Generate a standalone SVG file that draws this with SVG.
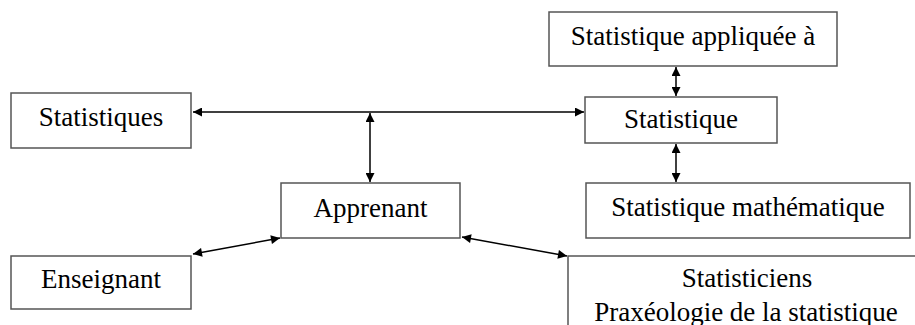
<svg xmlns="http://www.w3.org/2000/svg" width="915" height="325" viewBox="0 0 915 325">
<defs>
<style>
.box{fill:#fff;stroke:#555;stroke-width:1.5}
.t{font-family:"Liberation Serif","Times New Roman",serif;font-size:27px;fill:#000;text-anchor:middle}
.c{stroke:#000;stroke-width:1.5;fill:none;marker-start:url(#ah);marker-end:url(#ah)}
</style>
<marker id="ah" viewBox="0 0 10 10" refX="10" refY="5" markerWidth="10" markerHeight="9" markerUnits="userSpaceOnUse" orient="auto-start-reverse">
<path d="M0,0 L10,5 L0,10 Z" fill="#000"/>
</marker>
</defs>
<rect width="915" height="325" fill="#fff"/>
<g id="connectors">
<line class="c" x1="193" y1="112" x2="584" y2="112"/>
<line class="c" x1="370" y1="113" x2="370" y2="182"/>
<line class="c" x1="676" y1="67" x2="676" y2="96"/>
<line class="c" x1="676" y1="144" x2="676" y2="182"/>
<line class="c" x1="193" y1="254" x2="280" y2="238"/>
<line class="c" x1="462" y1="237" x2="567" y2="256"/>
</g>
<g id="statistiques"><rect class="box" x="11" y="93" width="180" height="55"/><text class="t" x="101" y="126">Statistiques</text></g>
<g id="appliquee"><rect class="box" x="549" y="12" width="288" height="54"/><text class="t" x="693" y="45">Statistique appliquée à</text></g>
<g id="statistique"><rect class="box" x="585" y="97" width="192" height="46"/><text class="t" x="681" y="128">Statistique</text></g>
<g id="apprenant"><rect class="box" x="281" y="183" width="179" height="55"/><text class="t" x="370.5" y="217">Apprenant</text></g>
<g id="mathematique"><rect class="box" x="586" y="183" width="324" height="55"/><text class="t" x="748" y="216">Statistique mathématique</text></g>
<g id="enseignant"><rect class="box" x="11" y="256" width="180" height="53"/><text class="t" x="101" y="288">Enseignant</text></g>
<g id="statisticiens"><rect class="box" x="568" y="256" width="380" height="100"/><text class="t" x="747" y="287">Statisticiens</text><text class="t" x="746" y="321">Praxéologie de la statistique</text></g>
</svg>
